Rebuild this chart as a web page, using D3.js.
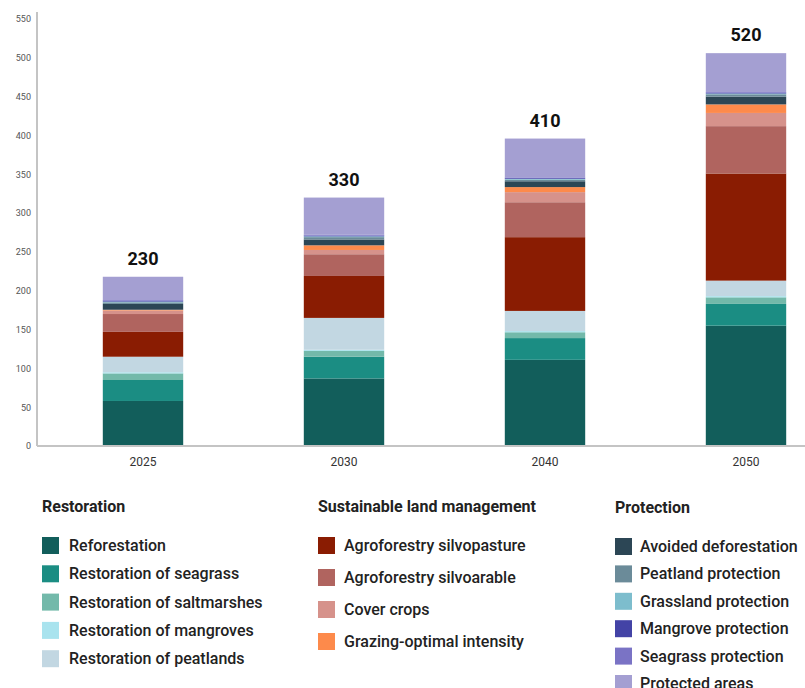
<!DOCTYPE html>
<html><head><meta charset="utf-8">
<script src="https://cdn.jsdelivr.net/npm/d3@7"></script>
<style>
html,body{margin:0;padding:0;background:#fff;}
svg{display:block;font-family:Roboto,"Noto Sans",sans-serif;}
</style></head>
<body><svg id="c" width="805" height="688"></svg>
<script>
const years = ["2025","2030","2040","2050"];
const totalLabels = ["230","330","410","520"];
const yTicks = [0,50,100,150,200,250,300,350,400,450,500,550];

const reforestation      = [58, 87, 111, 155];
const seagrassRestoration= [27, 28, 28, 28];
const saltmarshRestoration=[8.5, 7.5, 7.5, 8.5];
const mangroveRestoration= [1.5, 1.5, 1.5, 1.5];
const peatlandRestoration= [20, 41, 26, 20];
const silvopasture       = [32, 54, 95, 138];
const silvoarable        = [23, 28, 45, 61];
const coverCrops         = [4.5, 5.5, 13, 17];
const grazing            = [1, 6, 6.5, 11];
const avoidedDeforestation=[7.5, 7.5, 7.5, 10];
const peatlandProtection = [2, 3, 2, 3];
const grasslandProtection= [1, 1, 1, 1];
const mangroveProtection = [1, 1, 1, 1];
const seagrassProtection = [1, 1, 1, 1];
const protectedAreas     = [30, 48, 50, 50];

const series = [
  {name:"Reforestation", group:0, color:"#125e5b", v:reforestation},
  {name:"Restoration of seagrass", group:0, color:"#1b8d83", v:seagrassRestoration},
  {name:"Restoration of saltmarshes", group:0, color:"#73b9aa", v:saltmarshRestoration},
  {name:"Restoration of mangroves", group:0, color:"#a9e3ee", v:mangroveRestoration},
  {name:"Restoration of peatlands", group:0, color:"#c2d7e2", v:peatlandRestoration},
  {name:"Agroforestry silvopasture", group:1, color:"#8a1c02", v:silvopasture},
  {name:"Agroforestry silvoarable", group:1, color:"#b0645f", v:silvoarable},
  {name:"Cover crops", group:1, color:"#d6928b", v:coverCrops},
  {name:"Grazing-optimal intensity", group:1, color:"#fd8a4b", v:grazing},
  {name:"Avoided deforestation", group:2, color:"#2c4655", v:avoidedDeforestation},
  {name:"Peatland protection", group:2, color:"#6b8b99", v:peatlandProtection},
  {name:"Grassland protection", group:2, color:"#7dbdcd", v:grasslandProtection},
  {name:"Mangrove protection", group:2, color:"#4343a6", v:mangroveProtection},
  {name:"Seagrass protection", group:2, color:"#7a73c5", v:seagrassProtection},
  {name:"Protected areas", group:2, color:"#a49fd2", v:protectedAreas}
];
const groupTitles = ["Restoration","Sustainable land management","Protection"];

const svg = d3.select("#c");
const y = d3.scaleLinear().domain([0,550]).range([446,19]);
const x = d3.scaleBand().domain(years).range([42.5,846.5]).paddingInner(0.6).paddingOuter(0.3);

// y axis
const yAxis = d3.axisLeft(y).tickValues(yTicks).tickSize(0).tickPadding(6);
const ga = svg.append("g").attr("transform","translate(37,0)").call(yAxis);
ga.select(".domain").attr("stroke","#c4c4c4").attr("stroke-width",2).attr("d","M0,12V446");
ga.selectAll("text").attr("font-size",9).attr("fill","#555").attr("font-family","Roboto,sans-serif");

// stacked data
const rows = years.map((yr,i)=>{const o={year:yr}; series.forEach(s=>o[s.name]=s.v[i]); return o;});
const stack = d3.stack().keys(series.map(s=>s.name))(rows);
const color = d3.scaleOrdinal().domain(series.map(s=>s.name)).range(series.map(s=>s.color));

svg.append("g").selectAll("g").data(stack).join("g")
  .attr("fill",d=>color(d.key))
  .selectAll("rect").data(d=>d).join("rect")
  .attr("x",d=>x(d.data.year))
  .attr("width",x.bandwidth())
  .attr("y",d=>y(d[1]))
  .attr("height",d=>Math.max(0,y(d[0])-y(d[1])));

// baseline
svg.append("line").attr("x1",37).attr("x2",805).attr("y1",446).attr("y2",446)
  .attr("stroke","#c4c4c4").attr("stroke-width",2);

// x axis labels
const xAxis = d3.axisBottom(x).tickSize(0).tickPadding(11);
const gx = svg.append("g").attr("transform","translate(0,446)").call(xAxis);
gx.select(".domain").remove();
gx.selectAll("text").attr("font-size",12).attr("fill","#333").attr("font-family","Roboto,sans-serif");

// totals
const tops = stack[stack.length-1];
svg.append("g").selectAll("text").data(tops).join("text")
  .attr("x",d=>x(d.data.year)+x.bandwidth()/2)
  .attr("y",d=>y(d[1])-12)
  .attr("text-anchor","middle")
  .attr("font-size",18).attr("font-weight",700).attr("fill","#111")
  .text((d,i)=>totalLabels[i]);

// legend
const legCfg = [
  {x:42, titleY:512, top:537, step:28.3, tx:69},
  {x:318, titleY:512, top:537, step:32, tx:344},
  {x:615, titleY:513, top:538, step:27.4, tx:640}
];
legCfg.forEach((c,gi)=>{
  const g = svg.append("g");
  g.append("text").attr("x",c.x).attr("y",c.titleY)
    .attr("font-size",16).attr("font-weight",700).attr("fill","#222").text(groupTitles[gi]);
  const items = series.filter(s=>s.group===gi);
  items.forEach((s,i)=>{
    g.append("rect").attr("x",c.x).attr("y",c.top+i*c.step).attr("width",17).attr("height",17).attr("fill",s.color);
    g.append("text").attr("x",c.tx).attr("y",c.top+i*c.step+14)
      .attr("font-size",16).attr("font-weight",500).attr("fill","#222").text(s.name);
  });
});
</script></body></html>
